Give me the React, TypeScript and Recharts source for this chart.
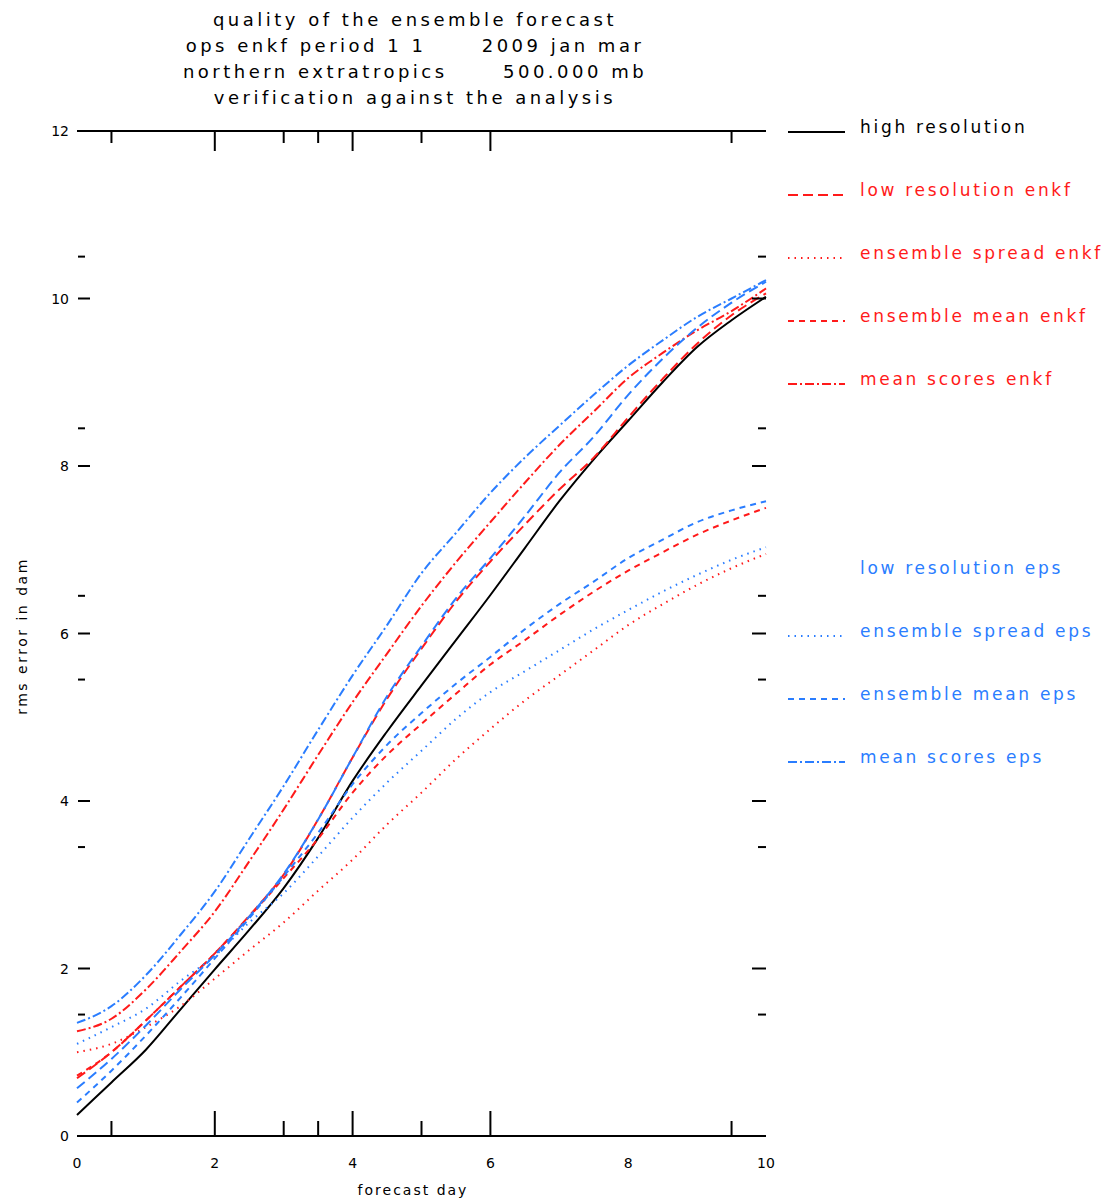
import { LineChart, Line, XAxis, YAxis } from 'recharts';

// forecast lead time (days), half-day steps
const days = [0, 0.5, 1, 1.5, 2, 2.5, 3, 3.5, 4, 4.5, 5, 5.5, 6, 6.5, 7, 7.5, 8, 8.5, 9, 9.5, 10];

// rms error in dam
const highRes = [0.25, 0.64, 1.03, 1.51, 1.99, 2.46, 2.96, 3.56, 4.24, 4.83, 5.38, 5.92, 6.46, 7.02, 7.58, 8.08, 8.54, 9.0, 9.42, 9.74, 10.02];
const lowResEnkf = [0.69, 1.0, 1.38, 1.78, 2.18, 2.63, 3.12, 3.78, 4.52, 5.22, 5.82, 6.38, 6.86, 7.3, 7.72, 8.1, 8.58, 9.04, 9.46, 9.8, 10.06];
const spreadEnkf = [1.0, 1.1, 1.3, 1.55, 1.88, 2.22, 2.55, 2.93, 3.3, 3.72, 4.1, 4.5, 4.86, 5.2, 5.5, 5.8, 6.1, 6.35, 6.58, 6.78, 6.95];
const meanEnkf = [0.72, 1.0, 1.38, 1.78, 2.18, 2.62, 3.08, 3.55, 4.1, 4.55, 4.92, 5.28, 5.63, 5.92, 6.22, 6.5, 6.75, 6.97, 7.18, 7.35, 7.5];
const scoresEnkf = [1.25, 1.4, 1.75, 2.2, 2.68, 3.28, 3.9, 4.55, 5.18, 5.76, 6.33, 6.85, 7.33, 7.8, 8.25, 8.65, 9.05, 9.35, 9.62, 9.85, 10.12];
const lowResEps = [0.57, 0.92, 1.32, 1.75, 2.16, 2.62, 3.13, 3.78, 4.52, 5.25, 5.85, 6.42, 6.9, 7.4, 7.92, 8.35, 8.85, 9.28, 9.65, 9.95, 10.2];
const spreadEps = [1.1, 1.3, 1.52, 1.85, 2.15, 2.55, 2.9, 3.34, 3.8, 4.22, 4.6, 4.98, 5.3, 5.55, 5.8, 6.05, 6.28, 6.5, 6.7, 6.88, 7.03];
const meanEps = [0.4, 0.78, 1.2, 1.65, 2.12, 2.6, 3.1, 3.62, 4.2, 4.67, 5.05, 5.4, 5.72, 6.05, 6.35, 6.62, 6.9, 7.12, 7.33, 7.47, 7.58];
const scoresEps = [1.35, 1.55, 1.92, 2.4, 2.92, 3.55, 4.18, 4.85, 5.5, 6.1, 6.72, 7.2, 7.68, 8.1, 8.48, 8.85, 9.2, 9.5, 9.78, 10.0, 10.22];

const titleLines = [
  'quality of the ensemble forecast',
  'ops enkf period 1 1      2009 jan mar',
  'northern extratropics      500.000 mb',
  'verification against the analysis',
];

const xLabels = [0, 2, 4, 6, 8, 10];
const xMajorTicks = [2, 4, 6];
const xMinorTicks = [0.5, 3, 3.5, 5, 9.5];
const yLabels = [0, 2, 4, 6, 8, 10, 12];
const yMajorTicks = [2, 4, 6, 8, 10];
const yMinorTicks = [1.45, 3.45, 5.45, 6.45, 8.45, 10.5];

const RED = '#ff1a1a';
const BLUE = '#2a7dff';

const series = [
  { key: 'highRes', label: 'high resolution', color: '#000', dash: undefined, values: highRes, row: 0, sample: true },
  { key: 'lowResEnkf', label: 'low resolution enkf', color: RED, dash: '10 5', values: lowResEnkf, row: 1, sample: true },
  { key: 'spreadEnkf', label: 'ensemble spread enkf', color: RED, dash: '1.5 5', values: spreadEnkf, row: 2, sample: true },
  { key: 'meanEnkf', label: 'ensemble mean enkf', color: RED, dash: '6 5', values: meanEnkf, row: 3, sample: true },
  { key: 'scoresEnkf', label: 'mean scores enkf', color: RED, dash: '9 3 2 3', values: scoresEnkf, row: 4, sample: true },
  { key: 'lowResEps', label: 'low resolution eps', color: BLUE, dash: '10 5', values: lowResEps, row: 7, sample: false },
  { key: 'spreadEps', label: 'ensemble spread eps', color: BLUE, dash: '1.5 5', values: spreadEps, row: 8, sample: true },
  { key: 'meanEps', label: 'ensemble mean eps', color: BLUE, dash: '6 5', values: meanEps, row: 9, sample: true },
  { key: 'scoresEps', label: 'mean scores eps', color: BLUE, dash: '9 3 2 3', values: scoresEps, row: 10, sample: true },
];

const data = days.map((d, i) => {
  const row: Record<string, number> = { day: d };
  series.forEach((s) => { row[s.key] = s.values[i]; });
  return row;
});

const FONT = '"DejaVu Sans", sans-serif';
const tickText = { fontFamily: FONT, fontSize: 14, fill: '#000' };

function BottomTick(props: any) {
  const { x, y, payload } = props;
  const v = payload.value;
  const len = xMajorTicks.includes(v) ? 25 : xMinorTicks.includes(v) ? 15 : 0;
  return (
    <g>
      {len > 0 && <line x1={x} x2={x} y1={y} y2={y - len} stroke="#000" strokeWidth={2} />}
      {xLabels.includes(v) && (
        <text x={x} y={y + 32} textAnchor="middle" {...tickText}>{v}</text>
      )}
    </g>
  );
}

function TopTick(props: any) {
  const { x, y, payload } = props;
  const v = payload.value;
  const len = xMajorTicks.includes(v) ? 20 : 12;
  return <line x1={x} x2={x} y1={y} y2={y + len} stroke="#000" strokeWidth={2} />;
}

function LeftTick(props: any) {
  const { x, y, payload } = props;
  const v = payload.value;
  const len = yMajorTicks.includes(v) ? 12 : yMinorTicks.includes(v) ? 7 : 0;
  return (
    <g>
      {len > 0 && <line x1={x + 1} x2={x + 1 + len} y1={y} y2={y} stroke="#000" strokeWidth={2} />}
      {yLabels.includes(v) && (
        <text x={x - 8} y={y + 5} textAnchor="end" {...tickText}>{v}</text>
      )}
    </g>
  );
}

function RightTick(props: any) {
  const { x, y, payload } = props;
  const v = payload.value;
  const len = yMajorTicks.includes(v) ? 14 : 8;
  return <line x1={x} x2={x - len} y1={y} y2={y} stroke="#000" strokeWidth={2} />;
}

export default function App() {
  return (
    <div style={{ position: 'absolute', left: 0, top: 0, width: 1116, height: 1203, background: '#fff', fontFamily: FONT }}>
      <LineChart
        width={1116}
        height={1203}
        data={data}
        margin={{ top: 121, right: 340, left: 37, bottom: 37 }}
      >
        <XAxis
          xAxisId="bottom"
          dataKey="day"
          type="number"
          domain={[0, 10]}
          ticks={[0, 0.5, 2, 3, 3.5, 4, 5, 6, 8, 9.5, 10]}
          interval={0}
          height={30}
          tickSize={0}
          tickMargin={0}
          axisLine={{ stroke: '#000', strokeWidth: 2 }}
          tickLine={false}
          tick={BottomTick}
        />
        <XAxis
          xAxisId="top"
          orientation="top"
          dataKey="day"
          type="number"
          domain={[0, 10]}
          ticks={[0.5, 2, 3, 3.5, 4, 5, 6, 9.5]}
          interval={0}
          height={10}
          tickSize={0}
          tickMargin={0}
          axisLine={{ stroke: '#000', strokeWidth: 2 }}
          tickLine={false}
          tick={TopTick}
        />
        <YAxis
          yAxisId="left"
          type="number"
          domain={[0, 12]}
          ticks={[0, 1.45, 2, 3.45, 4, 5.45, 6, 6.45, 8, 8.45, 10, 10.5, 12]}
          interval={0}
          width={40}
          tickSize={0}
          tickMargin={0}
          axisLine={false}
          tickLine={false}
          tick={LeftTick}
          allowDataOverflow
        />
        <YAxis
          yAxisId="right"
          orientation="right"
          type="number"
          domain={[0, 12]}
          ticks={[1.45, 2, 3.45, 4, 5.45, 6, 6.45, 8, 8.45, 10, 10.5]}
          interval={0}
          width={10}
          tickSize={0}
          tickMargin={0}
          axisLine={false}
          tickLine={false}
          tick={RightTick}
          allowDataOverflow
        />
        {series.map((s) => (
          <Line
            key={s.key}
            xAxisId="bottom"
            yAxisId="left"
            type="monotone"
            dataKey={s.key}
            stroke={s.color}
            strokeWidth={2}
            strokeDasharray={s.dash}
            dot={false}
            activeDot={false}
            isAnimationActive={false}
          />
        ))}
      </LineChart>

      <div style={{ position: 'absolute', left: 115, top: 7, width: 600, textAlign: 'center', fontSize: 18, lineHeight: '26px', letterSpacing: 3.5, whiteSpace: 'pre' }}>
        {titleLines.map((t) => <div key={t}>{t}</div>)}
      </div>

      <div style={{ position: 'absolute', left: 22, top: 636, transform: 'translate(-50%, -50%) rotate(-90deg)', fontSize: 14, letterSpacing: 2.5, whiteSpace: 'nowrap' }}>
        rms error in dam
      </div>

      <div style={{ position: 'absolute', left: 413, top: 1190, transform: 'translate(-50%, -50%)', fontSize: 14, letterSpacing: 2, whiteSpace: 'nowrap' }}>
        forecast day
      </div>

      <svg style={{ position: 'absolute', left: 780, top: 100 }} width={336} height={700}>
        {series.map((s) => {
          const cy = 27 + 63 * s.row;
          return (
            <g key={s.key}>
              {s.sample && (
                <line x1={8} x2={65} y1={cy + 5} y2={cy + 5} stroke={s.color} strokeWidth={2} strokeDasharray={s.dash} />
              )}
              <text x={80} y={cy + 6} fontFamily={FONT} fontSize={17} letterSpacing={2.7} fill={s.color}>{s.label}</text>
            </g>
          );
        })}
      </svg>
    </div>
  );
}
